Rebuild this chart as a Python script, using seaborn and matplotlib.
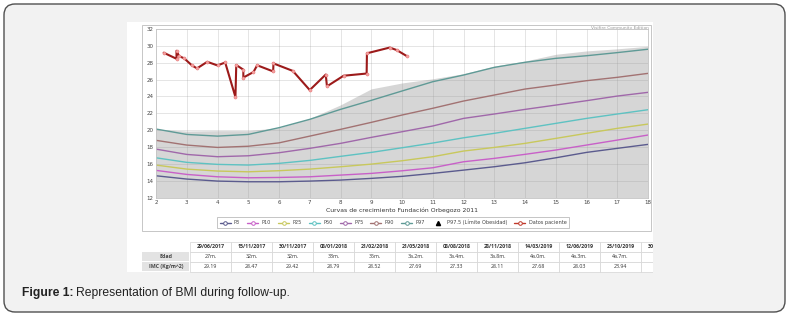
import numpy as np
import pandas as pd
import matplotlib
matplotlib.use("Agg")
import matplotlib.pyplot as plt
import seaborn as sns
from matplotlib.patches import FancyBboxPatch, Rectangle
from matplotlib.lines import Line2D
from matplotlib.transforms import Bbox, TransformedBbox

# Reference percentile curves (Fundación Orbegozo 2011), BMI by age in years
ages = list(range(2, 19))
p3 = [14.6, 14.21, 13.97, 13.89, 13.89, 13.97, 14.09, 14.29, 14.53, 14.88, 15.27, 15.67, 16.14, 16.73, 17.37, 17.85, 18.32]
p10 = [15.24, 14.76, 14.48, 14.36, 14.4, 14.48, 14.68, 14.88, 15.19, 15.55, 16.26, 16.66, 17.14, 17.65, 18.24, 18.83, 19.43]
p25 = [15.87, 15.39, 15.16, 15.07, 15.2, 15.39, 15.67, 15.98, 16.38, 16.86, 17.53, 17.96, 18.44, 19.03, 19.63, 20.22, 20.73]
p50 = [16.73, 16.19, 15.95, 15.87, 16.07, 16.42, 16.9, 17.37, 17.92, 18.48, 19.1, 19.63, 20.22, 20.81, 21.4, 21.92, 22.43]
p75 = [17.76, 17.13, 16.86, 16.97, 17.33, 17.85, 18.44, 19.15, 19.82, 20.5, 21.4, 21.92, 22.47, 22.98, 23.5, 24.05, 24.49]
p90 = [18.8, 18.24, 17.96, 18.1, 18.5, 19.3, 20.1, 20.93, 21.8, 22.6, 23.46, 24.17, 24.88, 25.36, 25.87, 26.27, 26.74]
p97 = [20.14, 19.5, 19.3, 19.5, 20.3, 21.29, 22.47, 23.54, 24.65, 25.75, 26.54, 27.45, 28.05, 28.52, 28.83, 29.2, 29.6]
# Obesity limit (P97.5), drawn as the shaded band
p975 = [20.1, 19.9, 19.95, 19.95, 20.3, 21.4, 23.0, 24.9, 25.6, 26.1, 26.7, 27.6, 28.2, 29.0, 29.4, 29.65, 29.95]

pct_names = ["P3", "P10", "P25", "P50", "P75", "P90", "P97"]
pct_colors = ["#5b5b8e", "#c860c8", "#c8c85c", "#5ec2c2", "#a068aa", "#a27272", "#5f9a96"]

# Patient follow-up: age (years) and BMI
patient_age = [27/12, 32/12, 32/12, 33/12, 35/12, 38/12, 40/12, 44/12, 48/12, 51/12, 55/12,
               4.61, 4.84, 4.84, 5.17, 5.29, 5.81, 5.82, 6.45, 7.0, 7.52, 7.56, 8.1, 8.85, 8.86, 9.6, 9.83, 10.15]
patient_bmi = [29.19, 28.47, 29.42, 28.79, 28.52, 27.69, 27.33, 28.11, 27.68, 28.03, 23.94,
               27.73, 27.18, 26.24, 26.9, 27.7, 26.97, 27.92, 27.03, 24.76, 26.6, 25.2, 26.46, 26.72, 29.12, 29.8, 29.5, 28.8]

# Table below the chart
table_dates = ["29/06/2017", "15/11/2017", "30/11/2017", "08/01/2018", "21/02/2018", "21/05/2018",
               "08/08/2018", "28/11/2018", "14/03/2019", "12/06/2019", "23/10/2019", "30/10/2019"]
table_edad = ["27m.", "32m.", "32m.", "33m.", "35m.", "3a.2m.", "3a.4m.", "3a.8m.", "4a.0m.", "4a.3m.", "4a.7m.", "4a.7m."]
table_imc = ["29.19", "28.47", "29.42", "28.79", "28.52", "27.69", "27.33", "28.11", "27.68", "28.03", "23.94", "27.73"]

sns.set_style("white")
plt.rcParams['font.family'] = ['DejaVu Sans']

W, H = 794, 323
fig = plt.figure(figsize=(W / 100, H / 100), dpi=100)
fig.patch.set_facecolor("white")

# Pixel-space background layer: frame, white panels, table, caption
bg = fig.add_axes([0, 0, 1, 1], zorder=0)
bg.set_xlim(0, W)
bg.set_ylim(H, 0)
bg.axis("off")
bg.add_patch(FancyBboxPatch((4, 4), 781, 308, boxstyle="round,pad=0,rounding_size=11",
                            fc="#f2f2f2", ec="#505050", lw=1.0))
bg.add_patch(Rectangle((127, 22), 526, 250, fc="white", ec="none"))
bg.add_patch(Rectangle((142, 24.5), 509, 206, fc="white", ec="#bdbdbd", lw=0.6))
bg.text(649, 27.5, "Visifire Community Edition", fontsize=3.2, color="#9a9a9a",
        ha="right", va="center")

# Growth chart
ax = fig.add_axes([156 / W, 1 - 197.7 / H, 492 / W, 168.7 / H], zorder=2)
ax.set_facecolor("white")
ax.fill_between(ages, 12, p975, color="#d6d6d6", lw=0, zorder=0.3)

curves = pd.DataFrame({
    "age": ages * len(pct_names),
    "bmi": p3 + p10 + p25 + p50 + p75 + p90 + p97,
    "pct": [n for n in pct_names for _ in ages],
})
sns.lineplot(data=curves, x="age", y="bmi", hue="pct", hue_order=pct_names,
             palette=dict(zip(pct_names, pct_colors)), lw=1.0, legend=False, ax=ax)

sns.lineplot(x=patient_age, y=patient_bmi, sort=False, estimator=None, color="#9c1a1a",
             lw=1.5, marker="o", markersize=2.2, markerfacecolor="#f3a3a3",
             markeredgecolor="#e87878", markeredgewidth=0.4, ax=ax, zorder=3)

ax.set_xlim(2, 18)
ax.set_ylim(12, 32)
ax.set_xticks(range(2, 19))
ax.set_yticks(range(12, 33, 2))
ax.set_axisbelow(True)
ax.grid(True, color="#9a9a9a", alpha=0.3, lw=0.6)
for s in ax.spines.values():
    s.set_color("#c4c4c4")
    s.set_linewidth(0.6)
ax.tick_params(labelsize=4.0, colors="#444444", length=0, pad=1.8)
ax.set_xlabel("Curvas de crecimiento Fundación Orbegozo 2011", fontsize=4.4,
              color="#333333", labelpad=2.0)
ax.set_ylabel("")

handles = [Line2D([0], [0], color=c, lw=1.0, marker="o", markersize=2.6,
                  markerfacecolor="white", markeredgecolor=c, markeredgewidth=0.7)
           for c in pct_colors]
labels = list(pct_names)
handles.append(Line2D([0], [0], color="none", marker="^", markersize=3,
                      markerfacecolor="black", markeredgecolor="black"))
labels.append("P97.5 (Límite Obesidad)")
handles.append(Line2D([0], [0], color="#c0392b", lw=1.0, marker="o", markersize=2.6,
                      markerfacecolor="white", markeredgecolor="#c0392b", markeredgewidth=0.7))
labels.append("Datos paciente")
leg = fig.legend(handles, labels, loc="center", bbox_to_anchor=(393 / W, 1 - 222.5 / H),
                 ncol=9, fontsize=3.6, frameon=True, fancybox=False, handlelength=2.2,
                 columnspacing=1.4, handletextpad=0.7, borderpad=0.5, edgecolor="#9a9a9a")
leg.get_frame().set_linewidth(0.5)
for t in leg.get_texts():
    t.set_color("#444444")

# Data table, cut at the right edge of the white panel
clip_box = TransformedBbox(Bbox([[127, 236], [653, 276]]), bg.transData)
row_top = [241.7, 251.7, 261.7]
row_h = 10.0
lab_x0, lab_x1 = 141.7, 190.0
col_w = 41.0
for r in (1, 2):
    bg.add_patch(Rectangle((lab_x0, row_top[r] + 0.4), lab_x1 - lab_x0 - 0.8, row_h - 0.8,
                           fc="#e3e3e3", ec="none"))
bg.text((lab_x0 + lab_x1) / 2, row_top[1] + row_h / 2, "Edad", fontsize=3.8,
        family=["Open Sans", "DejaVu Sans"], fontweight="bold", color="#444444",
        ha="center", va="center")
bg.text((lab_x0 + lab_x1) / 2, row_top[2] + row_h / 2, "IMC (Kg/m^2)", fontsize=3.8,
        family=["Open Sans", "DejaVu Sans"], fontweight="bold", color="#444444",
        ha="center", va="center")
for i, (d, e, v) in enumerate(zip(table_dates, table_edad, table_imc)):
    x0 = lab_x1 + i * col_w
    for r, (txt, wt) in enumerate([(d, "bold"), (e, "normal"), (v, "normal")]):
        cell = Rectangle((x0, row_top[r]), col_w, row_h, fc="white", ec="#d4d4d4", lw=0.5)
        bg.add_patch(cell)
        cell.set_clip_box(clip_box)
        cell.set_clip_path(None)
        t = bg.text(x0 + col_w / 2, row_top[r] + row_h / 2, txt, fontsize=3.8,
                    family=["Open Sans", "DejaVu Sans"], fontweight=wt, color="#333333",
                    ha="center", va="center")
        t.set_clip_path(None)
        t.set_clip_box(clip_box)
        t.set_clip_on(True)

# Caption
cap1 = bg.text(22, 293, "Figure 1:", fontsize=8.7, fontweight="bold",
               family=["Liberation Sans", "DejaVu Sans"], color="#222222", va="center")
fig.canvas.draw()
bb = cap1.get_window_extent()
bg.text(bb.x1 + 2.5, 293, "Representation of BMI during follow-up.", fontsize=8.7,
        family=["Liberation Sans", "DejaVu Sans"], color="#222222", va="center")

fig.savefig("out.png", dpi=100)
